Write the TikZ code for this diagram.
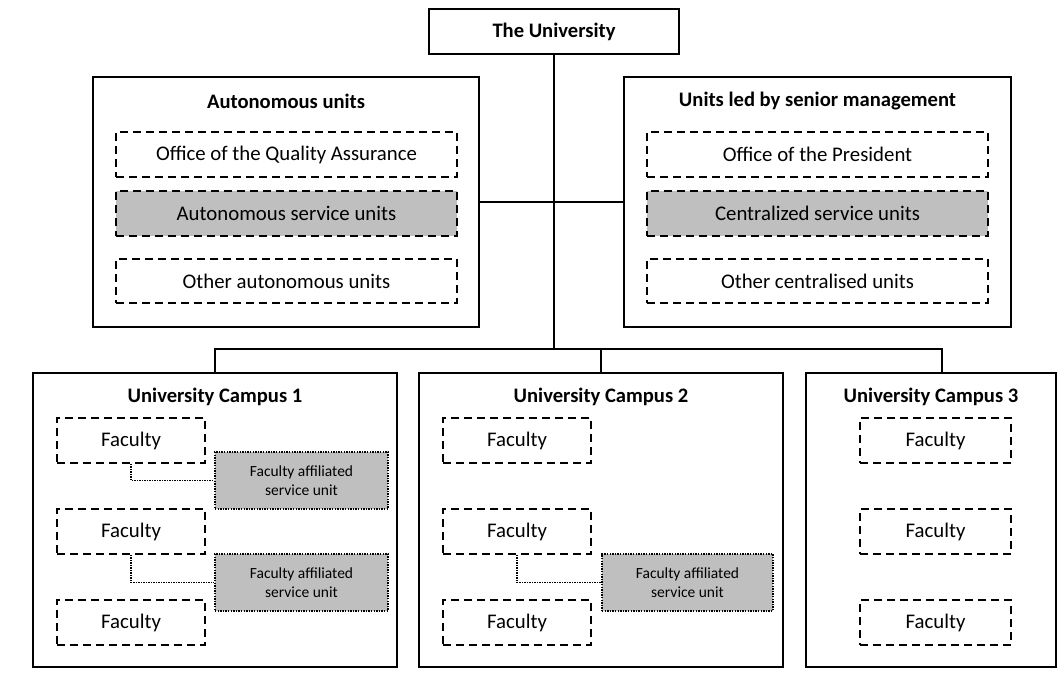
\documentclass[tikz,border=0pt]{standalone}
\usepackage{fontspec}
\setmainfont{Carlito}
\definecolor{unitgray}{HTML}{BFBFBF}
\begin{document}
\begin{tikzpicture}[x=1pt,y=-1pt,
  solidbox/.style={draw, line width=1.8pt, inner sep=0pt},
  dashbox/.style={draw, line width=1.6pt, dash pattern=on 8pt off 5pt, inner sep=0pt,
    font=\fontsize{20.8}{24}\selectfont},
  servbox/.style={dashbox, fill=unitgray},
  facbox/.style={dashbox, minimum width=148pt, minimum height=45pt},
  affbox/.style={draw, fill=unitgray, line width=1.4pt, dash pattern=on 1.4pt off 1.2pt,
    inner sep=0pt, minimum width=173pt, minimum height=57pt, align=center,
    font=\fontsize{15.5}{19.5}\selectfont},
  title/.style={font=\fontsize{20.6}{24}\selectfont\bfseries, inner sep=0pt},
  link/.style={line width=1.8pt},
  dotlink/.style={line width=1.3pt, dash pattern=on 1.3pt off 1.2pt}
]
\useasboundingbox (0,0) rectangle (1064,686);

% top of the hierarchy
\node[solidbox, minimum width=250pt, minimum height=45pt,
      font=\fontsize{20.6}{24}\selectfont\bfseries] (uni) at (554,31.5) {The University};

% autonomous units
\node[solidbox, minimum width=386pt, minimum height=250pt] (auto) at (286,202) {};
\node[title] (autot) at (286,101) {Autonomous units};
\node[dashbox, minimum width=341pt, minimum height=45pt] (qa) at (286.5,154.5) {Office of the Quality Assurance};
\node[servbox, minimum width=341pt, minimum height=45pt] (asu) at (286.5,213.5) {Autonomous service units};
\node[dashbox, minimum width=341pt, minimum height=44pt] (oau) at (286.5,281) {Other autonomous units};

% units led by senior management
\node[solidbox, minimum width=387pt, minimum height=250pt] (senior) at (817.5,202) {};
\node[title] (seniort) at (817.5,101) {Units led by senior management};
\node[dashbox, minimum width=341pt, minimum height=45pt] (pres) at (817.5,154.5) {Office of the President};
\node[servbox, minimum width=341pt, minimum height=45pt] (csu) at (817.5,213.5) {Centralized service units};
\node[dashbox, minimum width=341pt, minimum height=44pt] (ocu) at (817.5,281) {Other centralised units};

% campus 1
\node[solidbox, minimum width=364pt, minimum height=294pt] (c1) at (215,520) {};
\node[title] (c1t) at (215,397) {University Campus 1};
\node[facbox] (f11) at (131,440.5) {Faculty};
\node[facbox] (f12) at (131,531.5) {Faculty};
\node[facbox] (f13) at (131,622.5) {Faculty};
\node[affbox] (a11) at (301.5,480.5) {Faculty affiliated\\service unit};
\node[affbox] (a12) at (301.5,582.5) {Faculty affiliated\\service unit};

% campus 2
\node[solidbox, minimum width=364pt, minimum height=294pt] (c2) at (601,520) {};
\node[title] (c2t) at (601,397) {University Campus 2};
\node[facbox] (f21) at (517,440.5) {Faculty};
\node[facbox] (f22) at (517,531.5) {Faculty};
\node[facbox] (f23) at (517,622.5) {Faculty};
\node[affbox, minimum width=171pt] (a21) at (687.5,582.5) {Faculty affiliated\\service unit};

% campus 3
\node[solidbox, minimum width=250pt, minimum height=294pt] (c3) at (931,520) {};
\node[title] (c3t) at (931,397) {University Campus 3};
\node[facbox, minimum width=151pt] (f31) at (935.5,440.5) {Faculty};
\node[facbox, minimum width=151pt] (f32) at (935.5,531.5) {Faculty};
\node[facbox, minimum width=151pt] (f33) at (935.5,622.5) {Faculty};

% reporting lines
\coordinate (bus) at (554,349);
\coordinate (c3in) at (942,373);
\draw[link] (uni.south) -- (bus);
\draw[link] (auto.east) -- (senior.west);
\draw[link] (c1.north) |- (bus) -| (c3in);
\draw[link] (c2.north) -- (c2.north |- bus);

% faculty affiliations
\draw[dotlink] (f11.south) |- (a11.west);
\draw[dotlink] (f12.south) |- (a12.west);
\draw[dotlink] (f22.south) |- (a21.west);
\end{tikzpicture}
\end{document}
